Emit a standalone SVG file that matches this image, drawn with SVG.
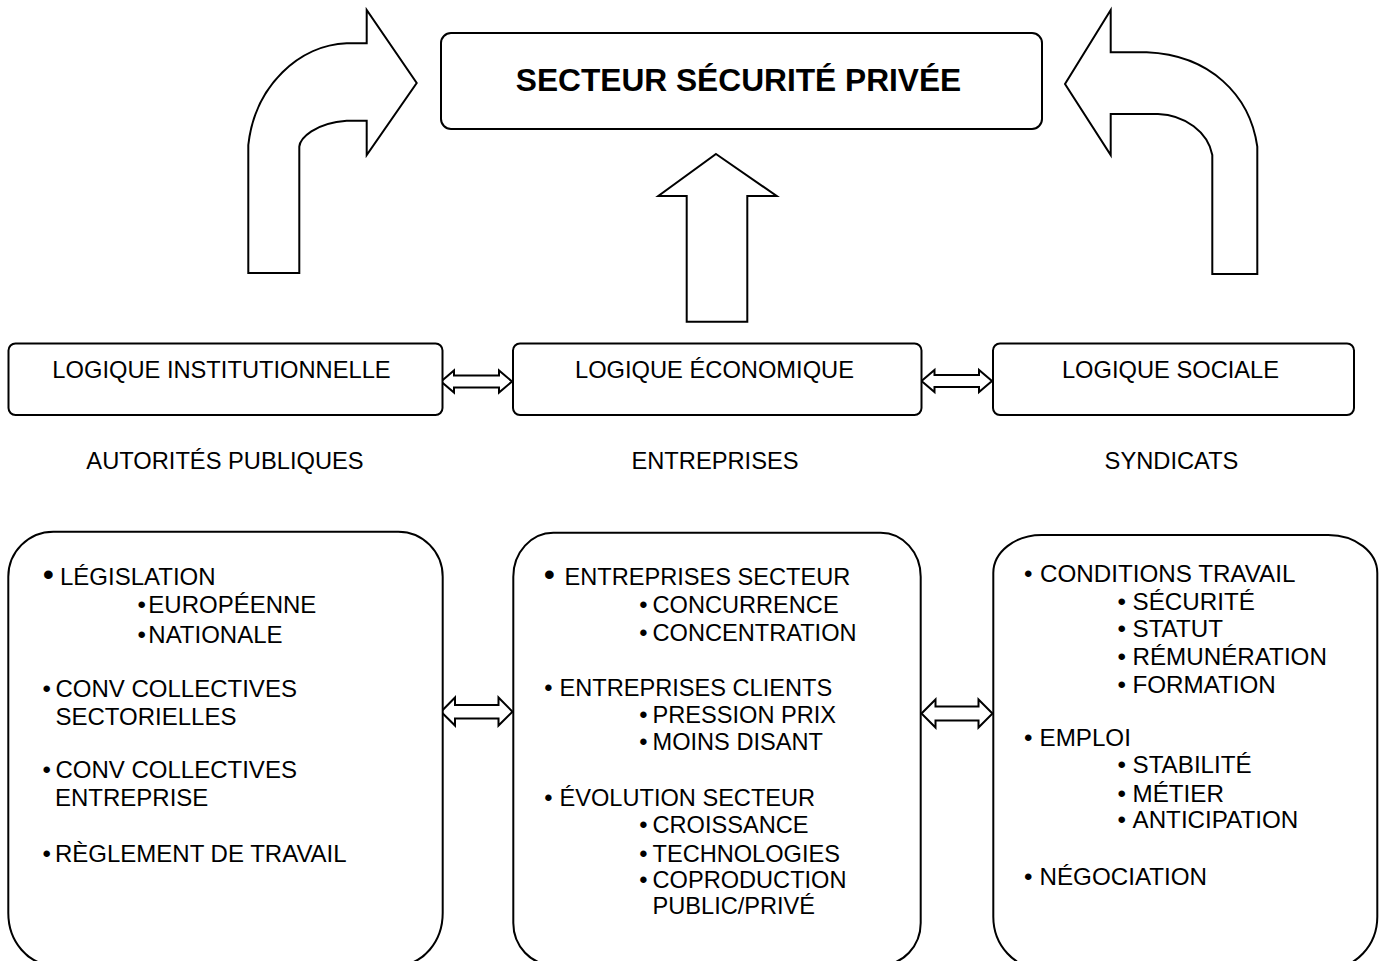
<svg xmlns="http://www.w3.org/2000/svg" width="1380" height="961" viewBox="0 0 1380 961">
<style>
.shape{fill:#fff;stroke:#000;stroke-width:2;stroke-linejoin:miter}
.t{font-family:"Liberation Sans",Arial,sans-serif;font-size:24.2px;fill:#000}
.m{font-size:23.7px}
.b1{font-size:24px}
.b2{font-size:23.6px}
.c{text-anchor:middle}
.title{font-family:"Liberation Sans",Arial,sans-serif;font-size:31.7px;font-weight:bold;fill:#000;text-anchor:middle}
.bb{font-size:32px}
</style>
<rect width="1380" height="961" fill="#fff"/>
<g id="connectors">
<path class="shape" d="M248.3,273 L299.3,273 L299.3,146.7 C300,138 315,123 346.7,120.7 L366.7,120.7 L366.7,155 L416.7,83 L366.7,10 L366.7,43.3 L346.7,43.3 C300,45 255,85 248.3,145 Z"/>
<path class="shape" d="M1212.3,274 L1257.3,274 L1257.3,146.7 C1250,95 1210,55 1146.7,52.3 L1110.7,52.3 L1110.7,10 L1065,84 L1110.7,155 L1110.7,114 L1158,114 C1185,115 1208,132 1212.3,155 Z"/>
<path class="shape" d="M716,154 L776.7,196 L747.3,196 L747.3,321.7 L686.7,321.7 L686.7,196 L658.3,196 Z"/>
<path class="shape" d="M441,381.5 L454,370.5 L454,375.5 L499,375.5 L499,370.5 L512,381.5 L499,392.5 L499,387.5 L454,387.5 L454,392.5 Z"/>
<path class="shape" d="M921.5,381 L934.5,370 L934.5,375 L979,375 L979,370 L992,381 L979,392 L979,387 L934.5,387 L934.5,392 Z"/>
<path class="shape" d="M441,711.7 L455,697.5 L455,705 L498.5,705 L498.5,697.5 L512.5,711.7 L498.5,725.5 L498.5,718.5 L455,718.5 L455,725.5 Z"/>
<path class="shape" d="M921.5,713.5 L935.5,699.5 L935.5,706.5 L978.5,706.5 L978.5,699.5 L992.5,713.5 L978.5,727.5 L978.5,720.5 L935.5,720.5 L935.5,727.5 Z"/>
</g>
<g id="secteur">
<rect class="shape" x="441" y="33" width="601" height="96" rx="10"/>
<text class="title" x="738.5" y="91">SECTEUR SÉCURITÉ PRIVÉE</text>
</g>
<g id="logique-institutionnelle">
<rect class="shape" x="8.5" y="343.5" width="434" height="71.5" rx="7"/>
<text class="t m c" x="221.5" y="377.5">LOGIQUE INSTITUTIONNELLE</text>
</g>
<g id="logique-economique">
<rect class="shape" x="513" y="343.5" width="408.5" height="71.5" rx="7"/>
<text class="t m c" x="714.5" y="377.5">LOGIQUE ÉCONOMIQUE</text>
</g>
<g id="logique-sociale">
<rect class="shape" x="993" y="343.5" width="361" height="71.5" rx="7"/>
<text class="t m c" x="1170.5" y="377.5">LOGIQUE SOCIALE</text>
</g>
<g id="labels">
<text class="t m c" x="225" y="469">AUTORITÉS PUBLIQUES</text>
<text class="t m c" x="715" y="469">ENTREPRISES</text>
<text class="t m c" x="1171.5" y="469">SYNDICATS</text>
</g>
<g id="autorites">
<path class="shape" d="M53.3,531.7 H398.3 A44.4,45 0 0 1 442.7,576.7 V913 A44.4,52 0 0 1 398.3,965 H53.3 A45,52 0 0 1 8.3,913 V576.7 A45,45 0 0 1 53.3,531.7 Z"/>
<text class="t b1" y="585"><tspan class="bb" x="42.7">•</tspan><tspan x="60">LÉGISLATION</tspan></text>
<text class="t b1" y="613.3"><tspan x="137.4">•</tspan><tspan x="148.3">EUROPÉENNE</tspan></text>
<text class="t b1" y="642.7"><tspan x="137.4">•</tspan><tspan x="148.3">NATIONALE</tspan></text>
<text class="t b1" y="696.7"><tspan x="42.4">•</tspan><tspan x="55.5">CONV COLLECTIVES</tspan></text>
<text class="t b1" x="55.5" y="725">SECTORIELLES</text>
<text class="t b1" y="778.3"><tspan x="42.4">•</tspan><tspan x="55.5">CONV COLLECTIVES</tspan></text>
<text class="t b1" x="55" y="806">ENTREPRISE</text>
<text class="t b1" y="861.7"><tspan x="42.4">•</tspan><tspan x="55">RÈGLEMENT DE TRAVAIL</tspan></text>
</g>
<g id="entreprises">
<path class="shape" d="M553.3,532.7 H880.7 A40,44 0 0 1 920.7,576.7 V923 A40,42 0 0 1 880.7,965 H553.3 A40,42 0 0 1 513.3,923 V576.7 A40,44 0 0 1 553.3,532.7 Z"/>
<text class="t b2" y="585"><tspan class="bb" x="543.7">•</tspan><tspan x="564.5">ENTREPRISES SECTEUR</tspan></text>
<text class="t b2" y="613.3"><tspan x="639.2">•</tspan><tspan x="652.5">CONCURRENCE</tspan></text>
<text class="t b2" y="640.7"><tspan x="639.2">•</tspan><tspan x="652.5">CONCENTRATION</tspan></text>
<text class="t b2" y="696"><tspan x="544.2">•</tspan><tspan x="559.5">ENTREPRISES CLIENTS</tspan></text>
<text class="t b2" y="722.7"><tspan x="639.2">•</tspan><tspan x="652.5">PRESSION PRIX</tspan></text>
<text class="t b2" y="750"><tspan x="639.2">•</tspan><tspan x="652.5">MOINS DISANT</tspan></text>
<text class="t b2" y="806"><tspan x="544.2">•</tspan><tspan x="559.5">ÉVOLUTION SECTEUR</tspan></text>
<text class="t b2" y="832.7"><tspan x="639.2">•</tspan><tspan x="652.5">CROISSANCE</tspan></text>
<text class="t b2" y="861.7"><tspan x="639.2">•</tspan><tspan x="652.5">TECHNOLOGIES</tspan></text>
<text class="t b2" y="888.3"><tspan x="639.2">•</tspan><tspan x="652.5">COPRODUCTION</tspan></text>
<text class="t b2" x="652.5" y="914">PUBLIC/PRIVÉ</text>
</g>
<g id="syndicats">
<path class="shape" d="M1041.7,535 H1328.3 A49,38 0 0 1 1377.3,573 V916.7 A49,52 0 0 1 1328.3,968.7 H1041.7 A48.4,52 0 0 1 993.3,916.7 V573 A48.4,38 0 0 1 1041.7,535 Z"/>
<text class="t" y="581.7"><tspan x="1024">•</tspan><tspan x="1040">CONDITIONS TRAVAIL</tspan></text>
<text class="t" y="610"><tspan x="1117.4">•</tspan><tspan x="1132.5">SÉCURITÉ</tspan></text>
<text class="t" y="637.3"><tspan x="1117.4">•</tspan><tspan x="1132.5">STATUT</tspan></text>
<text class="t" y="665"><tspan x="1117.4">•</tspan><tspan x="1132.5">RÉMUNÉRATION</tspan></text>
<text class="t" y="692.7"><tspan x="1117.4">•</tspan><tspan x="1132.5">FORMATION</tspan></text>
<text class="t" y="746"><tspan x="1024">•</tspan><tspan x="1039.5">EMPLOI</tspan></text>
<text class="t" y="773.3"><tspan x="1117.4">•</tspan><tspan x="1132.5">STABILITÉ</tspan></text>
<text class="t" y="801.7"><tspan x="1117.4">•</tspan><tspan x="1132.5">MÉTIER</tspan></text>
<text class="t" y="828.3"><tspan x="1117.4">•</tspan><tspan x="1132.5">ANTICIPATION</tspan></text>
<text class="t" y="885"><tspan x="1024">•</tspan><tspan x="1039.5">NÉGOCIATION</tspan></text>
</g>
</svg>
